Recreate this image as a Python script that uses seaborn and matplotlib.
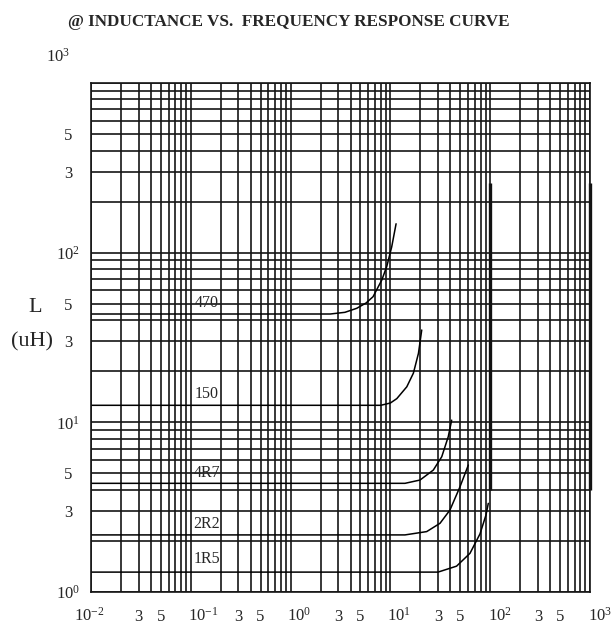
import pandas as pd
import matplotlib
matplotlib.use("Agg")
import matplotlib.pyplot as plt
import matplotlib.transforms as mtransforms
from matplotlib.ticker import FixedLocator, NullFormatter
import seaborn as sns

# curve data (frequency MHz, inductance uH)
parts = ["470", "150", "4R7", "2R2", "1R5"]
f_470 = [0.01, 2.5, 3.5, 4.6, 5.7, 6.7, 8.2, 9.2, 10.3, 11.4]
L_470 = [43.5, 43.5, 44.5, 47, 50.5, 55, 69, 83, 108, 148]
f_150 = [0.01, 8.0, 10, 11.6, 14.6, 17, 19.1, 20.6]
L_150 = [12.6, 12.6, 13, 13.8, 16.2, 19.5, 25.5, 35]
f_4r7 = [0.01, 14, 19.8, 26.9, 32.7, 38, 41.1]
L_4r7 = [4.37, 4.37, 4.57, 5.23, 6.27, 8.23, 10.3]
f_2r2 = [0.01, 14, 23.1, 31.4, 39.5, 49.8, 60.4]
L_2r2 = [2.17, 2.17, 2.27, 2.54, 3.04, 4.17, 5.6]
f_1r5 = [0.01, 30, 46, 62.7, 79, 90.7, 95.7]
L_1r5 = [1.31, 1.31, 1.42, 1.69, 2.2, 2.84, 3.33]

# label spots for each curve
lab_x = [0.145, 0.145, 0.145, 0.145, 0.145]
lab_y = [50.7, 14.7, 5.0, 2.52, 1.56]

# heavy vertical strokes on the chart
seg_x = [100, 1000]
seg_lo = [4, 4]
seg_hi = [257, 257]

x_ticks = [0.01, 0.03, 0.05, 0.1, 0.3, 0.5, 1, 3, 5, 10, 30, 50, 100, 300, 500, 1000]
x_labels = ["$10^{-2}$", "3", "5", "$10^{-1}$", "3", "5", "$10^{0}$", "3", "5",
            "$10^{1}$", "3", "5", "$10^{2}$", "3", "5", "$10^{3}$"]
y_ticks = [1, 3, 5, 10, 30, 50, 100, 300, 500, 1000]
y_labels = ["$10^{0}$", "3", "5", "$10^{1}$", "3", "5", "$10^{2}$", "3", "5", "$10^{3}$"]

curves = {"470": (f_470, L_470), "150": (f_150, L_150), "4R7": (f_4r7, L_4r7),
          "2R2": (f_2r2, L_2r2), "1R5": (f_1r5, L_1r5)}
rows = []
for p in parts:
    for fv, lv in zip(*curves[p]):
        rows.append({"part": p, "f": fv, "L": lv})
df = pd.DataFrame(rows)

sns.set_style("white")
plt.rcParams["font.family"] = ["Liberation Serif", "DejaVu Serif"]
plt.rcParams["mathtext.fontset"] = "custom"
plt.rcParams["mathtext.rm"] = "Liberation Serif"
plt.rcParams["mathtext.it"] = "Liberation Serif:italic"

fig = plt.figure(figsize=(6.15, 6.26), dpi=100)
ax = fig.add_axes([91 / 615, 1 - 592 / 626, 499 / 615, 509 / 626])

sns.lineplot(data=df, x="f", y="L", units="part", estimator=None, sort=False,
             color="black", lw=1.1, ax=ax, legend=False)
ax.set_xscale("log")
ax.set_yscale("log")
ax.set_xlim(0.01, 1000)
ax.set_ylim(1, 1000)

# grid
minor_x = [m * 10.0 ** e for e in range(-2, 3) for m in (2, 4, 6, 7, 8, 9)]
minor_y = [m * 10.0 ** e for e in range(0, 3) for m in (2, 4, 6, 7, 8, 9)]
ax.xaxis.set_major_locator(FixedLocator(x_ticks))
ax.xaxis.set_minor_locator(FixedLocator(minor_x))
ax.yaxis.set_major_locator(FixedLocator(y_ticks))
ax.yaxis.set_minor_locator(FixedLocator(minor_y))
ax.xaxis.set_minor_formatter(NullFormatter())
ax.yaxis.set_minor_formatter(NullFormatter())
ax.set_xticklabels(x_labels)
ax.set_yticklabels(y_labels)
ax.grid(which="both", color="#151515", lw=1.2)
ax.set_axisbelow(True)
for s in ax.spines.values():
    s.set_color("#151515")
    s.set_linewidth(1.2)

ax.vlines(seg_x, seg_lo, seg_hi, color="#111111", lw=2.4, clip_on=False)

ax.tick_params(which="both", length=0)
ax.tick_params(axis="x", pad=21, labelsize=12)
ax.tick_params(axis="y", pad=16.5, labelsize=12)
for t in ax.get_yticklabels():
    t.set_ha("center")
for t in ax.get_xticklabels():
    t.set_va("baseline")

# nudge the decade labels like the original
x_shift = {0: -2, 3: 12, 6: 8, 9: 9, 12: 10, 15: 10}
for i, t in enumerate(ax.get_xticklabels()):
    if i in x_shift:
        off = mtransforms.ScaledTranslation(x_shift[i] / 100, 0, fig.dpi_scale_trans)
        t.set_transform(t.get_transform() + off)
top = ax.get_yticklabels()[-1]
top.set_transform(top.get_transform() + mtransforms.ScaledTranslation(-10 / 100, 28 / 100, fig.dpi_scale_trans))

for p, xx, yy in zip(parts, lab_x, lab_y):
    ax.text(xx, yy, p, ha="center", va="center", fontsize=11.5)

ax.set_xlabel("")
ax.set_ylabel("")
fig.text(35 / 615, 1 - 307 / 626, "L", ha="center", va="center", fontsize=16)
fig.text(32 / 615, 1 - 342 / 626, "(uH)", ha="center", va="center", fontsize=16)
fig.text(289 / 615, 1 - 22 / 626, "@ INDUCTANCE VS.  FREQUENCY RESPONSE CURVE",
         ha="center", va="center", fontsize=12.3, fontweight="bold")

fig.savefig("out.png", dpi=100)
